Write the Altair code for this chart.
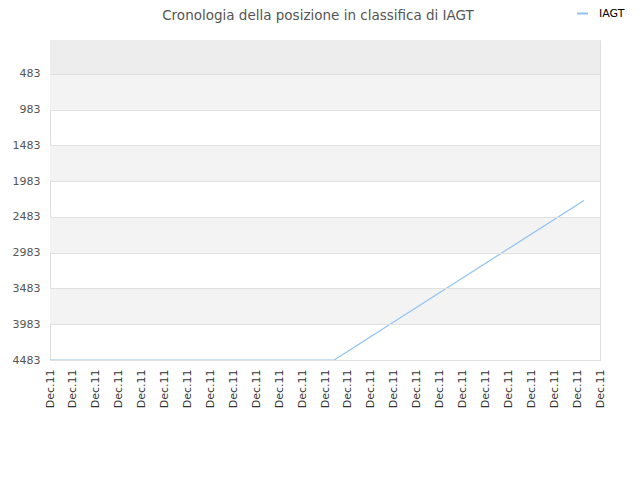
import altair as alt
import pandas as pd

# ---- data ----
series_name = "IAGT"
x_index = [0, 12.4, 23.3]          # position along the 25 "Dec.11" ticks
rank_values = [4483, 4483, 2251]  # ranking position (lower is better)

tick_labels = ["Dec.11"] * 25
y_ticks = [483, 983, 1483, 1983, 2483, 2983, 3483, 3983, 4483]
y_domain = [8, 4483]

line_df = pd.DataFrame({"x": x_index, "rank": rank_values, "serie": [series_name] * len(x_index)})

# bands between ticks (alternating), plus top band above first tick
bands = []
bands.append({"y0": y_domain[0], "y1": y_ticks[0], "c": "top"})
for i in range(0, len(y_ticks) - 1, 2):
    bands.append({"y0": y_ticks[i], "y1": y_ticks[i + 1], "c": "alt"})
band_df = pd.DataFrame(bands)

W, H = 550, 320
xscale = alt.Scale(domain=[0, len(tick_labels) - 1], nice=False, zero=False)
yscale = alt.Scale(domain=y_domain, reverse=True, nice=False, zero=False)


def y_axis():
    return alt.Axis(values=y_ticks, format="d", labelOverlap=False, title=None,
                    grid=True, gridColor="#e0e0e0", zindex=1,
                    ticks=False, domain=False, labelColor="#555555",
                    labelFont="DejaVu Sans", labelFontSize=11, labelPadding=10)


band_layer = alt.Chart(band_df).mark_rect(stroke=None).encode(
    x=alt.value(0), x2=alt.value(W),
    y=alt.Y("y0:Q", scale=yscale, axis=y_axis()),
    y2="y1:Q",
    color=alt.Color("c:N", scale=alt.Scale(domain=["top", "alt"], range=["#ededed", "#f3f3f3"]),
                    legend=None),
)

line_layer = alt.Chart(line_df).mark_line(strokeWidth=1.2, clip=True).encode(
    x=alt.X("x:Q", scale=xscale,
            axis=alt.Axis(values=list(range(len(tick_labels))), labelExpr="'Dec.11'",
                          title=None, grid=False, ticks=False, domain=False, labelOverlap=False,
                          labelAngle=270, labelColor="#333333", labelFont="DejaVu Sans",
                          labelFontSize=11, labelPadding=9)),
    y=alt.Y("rank:Q", scale=yscale, axis=y_axis()),
    stroke=alt.Stroke("serie:N", scale=alt.Scale(domain=[series_name], range=["#92c2f2"]),
                      legend=alt.Legend(title=None, orient="none", legendX=526, legendY=-33,
                                        symbolType="stroke", symbolSize=120, symbolStrokeWidth=2,
                                        labelOffset=10,
                                        labelFont="DejaVu Sans", labelFontSize=11,
                                        labelColor="#000000")),
)

chart = alt.layer(band_layer, line_layer).resolve_scale(color="independent").properties(
    width=W, height=H,
    title=alt.TitleParams("Cronologia della posizione in classifica di IAGT",
                          font="DejaVu Sans", fontSize=13.5, fontWeight="normal",
                          color="#555555", anchor="middle", dx=-7, offset=0, dy=15),
    autosize=alt.AutoSizeParams(type="none"),
    padding={"left": 42, "top": 32, "right": 32, "bottom": 120},
).configure_view(stroke="#dddddd", strokeWidth=1).configure(background="white")

chart.save("out.html", embed_options={"renderer": "svg", "actions": False})
